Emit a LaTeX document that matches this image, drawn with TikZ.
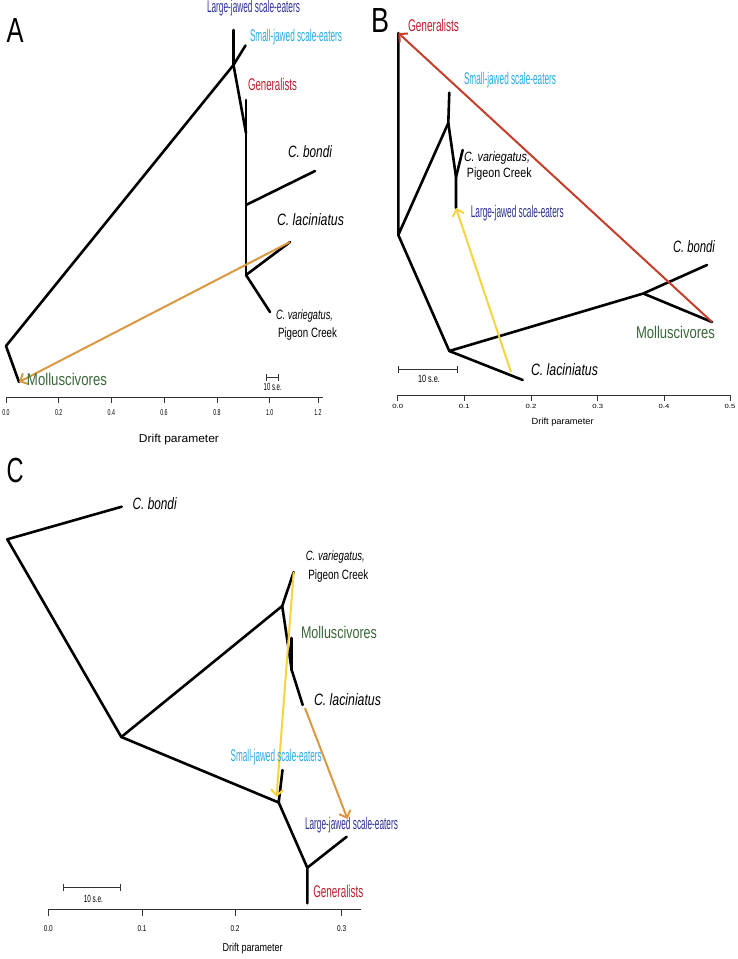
\documentclass[tikz,border=0pt]{standalone}
\usepackage{fontspec}
\setmainfont{Liberation Sans}
\usepackage{graphicx}
\usetikzlibrary{arrows.meta}
\definecolor{LJNavy}{RGB}{46,49,146}
\definecolor{SJBlue}{RGB}{39,170,225}
\definecolor{GenRed}{RGB}{190,30,45}
\definecolor{MolGreen}{RGB}{58,104,58}
\definecolor{MigOrange}{RGB}{218,152,66}
\definecolor{MigRed}{RGB}{196,62,42}
\definecolor{MigYellow}{RGB}{246,212,62}
\definecolor{AxisGray}{RGB}{50,50,50}
\newcommand{\fitlbl}[2]{\resizebox{#1bp}{\height}{#2}}

\begin{document}
\begin{tikzpicture}[x=1bp,y=-1bp,
    branch/.style={line width=2.6bp,line cap=round,line join=round},
    mig/.style={line width=2bp,-{Straight Barb[length=6bp,width=12bp]}},
    ax/.style={line width=0.9bp,draw=AxisGray},
    sebar/.style={ax,{Bar[width=7bp]}-{Bar[width=7bp]}},
    lab/.style={inner sep=0pt,anchor=mid},
    grp/.style={lab,font=\fontsize{17}{17}\selectfont},
    spc/.style={lab,font=\fontsize{16.5}{16.5}\selectfont\itshape},
    loc/.style={lab,font=\fontsize{13.5}{13.5}\selectfont},
    panel/.style={inner sep=0pt,anchor=center,font=\fontsize{35}{35}\selectfont},
    tklab/.style={lab,font=\fontsize{8.5}{8.5}\selectfont},
    selab/.style={lab,font=\fontsize{10.5}{10.5}\selectfont},
    drift/.style={lab,font=\fontsize{11.5}{11.5}\selectfont}
  ]
  \useasboundingbox (0,0) rectangle (738,959);

  % panel A
  \node[panel] (pA) at (15,31) {\fitlbl{17}{A}};
  \coordinate (aLJ) at (233.5,30);
  \coordinate (aN1) at (233.5,65);
  \coordinate (aSJ) at (245.5,45.5);
  \coordinate (aGen) at (246,100);
  \coordinate (aN2) at (246,133);
  \coordinate (aN3) at (246,205);
  \coordinate (aN4) at (246,275);
  \coordinate (aBon) at (315,171);
  \coordinate (aLac) at (290,242);
  \coordinate (aVar) at (270,312);
  \coordinate (aR) at (6,346);
  \coordinate (aMol) at (19,382);
  \draw[branch] (aLJ) -- (aN1);
  \draw[branch] (aSJ) -- (aN1);
  \draw[branch] (aN1) -- (aN2);
  \draw[branch] (aGen) -- (aN2) -- (aN3) -- (aN4);
  \draw[branch] (aN3) -- (aBon);
  \draw[branch] (aN4) -- (aLac);
  \draw[branch] (aN4) -- (aVar);
  \draw[branch] (aN1) -- (aR) -- (aMol);
  \draw[mig,draw=MigOrange] (aLac) -- (aMol);
  \node[grp,text=LJNavy] (aLJl) at (253.5,10) {\fitlbl{93}{Large-jawed scale-eaters}};
  \node[grp,text=SJBlue] (aSJl) at (296,39) {\fitlbl{92}{Small-jawed scale-eaters}};
  \node[grp,text=GenRed] (aGenl) at (272.5,88) {\fitlbl{49}{Generalists}};
  \node[spc] (aBonl) at (310,155) {\fitlbl{44}{C. bondi}};
  \node[spc] (aLacl) at (310.5,223) {\fitlbl{67}{C. laciniatus}};
  \node[loc] (aVarl) at (304.5,317) {\fitlbl{57}{\itshape C. variegatus,}};
  \node[loc] (aPigl) at (307.5,335) {\fitlbl{59}{Pigeon Creek}};
  \node[grp,text=MolGreen] (aMoll) at (67,383) {\fitlbl{80}{Molluscivores}};
  \coordinate (aS1) at (265.7,377.3);
  \coordinate (aS2) at (279.3,377.3);
  \draw[sebar] (aS1) -- (aS2);
  \node[selab] (aSel) at (272.7,388) {\fitlbl{18}{10 s.e.}};
  \coordinate (aX1) at (6,397);
  \coordinate (aX2) at (323,397);
  \draw[ax] (aX1) -- (aX2);
  \foreach \x/\t [count=\i] in {6/0.0,58.7/0.2,111.3/0.4,164/0.6,217/0.8,269.7/1.0,318/1.2}{
    \draw[ax] (\x,397) -- (\x,402.5);
    \node[tklab] (aT\i) at (\x,413) {\fitlbl{7.3}{\t}};
  }
  \node[drift] (aDr) at (179,440) {\fitlbl{80}{Drift parameter}};

  % panel B
  \node[panel] (pB) at (380,21) {\fitlbl{18}{B}};
  \coordinate (bGen) at (398.3,33);
  \coordinate (bR) at (398.3,235);
  \coordinate (bM) at (448.3,123);
  \coordinate (bSJ) at (449.3,92.7);
  \coordinate (bV) at (456,177);
  \coordinate (bVar) at (462.7,150);
  \coordinate (bLJ) at (456,208);
  \coordinate (bQ) at (449.3,351);
  \coordinate (bLac) at (522.7,380);
  \coordinate (bP) at (643.3,293.5);
  \coordinate (bBon) at (707,265);
  \coordinate (bMol) at (712,322);
  \coordinate (bLacA) at (511,372);
  \draw[branch] (bGen) -- (bR) -- (bM) -- (bSJ);
  \draw[branch] (bM) -- (bV) -- (bLJ);
  \draw[branch] (bV) -- (bVar);
  \draw[branch] (bR) -- (bQ) -- (bLac);
  \draw[branch] (bQ) -- (bP) -- (bBon);
  \draw[branch] (bP) -- (bMol);
  \draw[mig,draw=MigRed] (bMol) -- (bGen);
  \draw[mig,draw=MigYellow] (bLacA) -- (bLJ);
  \node[grp,text=GenRed] (bGenl) at (433.5,29.3) {\fitlbl{51}{Generalists}};
  \node[grp,text=SJBlue] (bSJl) at (510,81.7) {\fitlbl{92}{Small-jawed scale-eaters}};
  \node[loc] (bVarl) at (497,159.3) {\fitlbl{66}{\itshape C. variegatus,}};
  \node[loc] (bPigl) at (499.3,175) {\fitlbl{64.7}{Pigeon Creek}};
  \node[grp,text=LJNavy] (bLJl) at (517.3,215) {\fitlbl{93}{Large-jawed scale-eaters}};
  \node[spc] (bBonl) at (694,250) {\fitlbl{42}{C. bondi}};
  \node[grp,text=MolGreen] (bMoll) at (675.5,336) {\fitlbl{79}{Molluscivores}};
  \node[spc] (bLacl) at (564.5,373.3) {\fitlbl{67}{C. laciniatus}};
  \coordinate (bS1) at (397.7,369);
  \coordinate (bS2) at (457.7,369);
  \draw[sebar] (bS1) -- (bS2);
  \node[selab] (bSel) at (429,380) {\fitlbl{22}{10 s.e.}};
  \coordinate (bX1) at (397.7,395);
  \coordinate (bX2) at (730,395);
  \draw[ax] (bX1) -- (bX2);
  \foreach \x/\t [count=\i] in {397.7/0.0,464.3/0.1,531/0.2,597.7/0.3,664/0.4,730/0.5}{
    \draw[ax] (\x,395) -- (\x,400.5);
    \node[tklab,font=\fontsize{6}{6}\selectfont] (bT\i) at (\x,406) {\fitlbl{10.7}{\t}};
  }
  \node[drift,font=\fontsize{9}{9}\selectfont] (bDr) at (562.7,421.7) {\fitlbl{62}{Drift parameter}};

  % panel C
  \node[panel] (pC) at (15,470) {\fitlbl{17}{C}};
  \coordinate (cR) at (7.3,539.3);
  \coordinate (cBon) at (121.7,506.7);
  \coordinate (cS) at (121.3,737);
  \coordinate (cU) at (282.2,606);
  \coordinate (cVar) at (293.7,572);
  \coordinate (cV) at (291.7,670);
  \coordinate (cMol) at (291.7,638);
  \coordinate (cLac) at (302.7,705);
  \coordinate (cT) at (278.7,802.5);
  \coordinate (cSJ) at (282.5,770);
  \coordinate (cW) at (307.3,867.7);
  \coordinate (cGen) at (307.3,903.3);
  \coordinate (cLJ) at (346.7,836.7);
  \coordinate (cTA) at (276.5,797);
  \coordinate (cLacA) at (305,708);
  \coordinate (cLJA) at (347.5,819);
  \draw[branch] (cBon) -- (cR) -- (cS) -- (cU) -- (cVar);
  \draw[branch] (cU) -- (cV) -- (cLac);
  \draw[branch] (cMol) -- (cV);
  \draw[branch] (cS) -- (cT) -- (cSJ);
  \draw[branch] (cT) -- (cW) -- (cGen);
  \draw[branch] (cW) -- (cLJ);
  \draw[mig,draw=MigYellow] (cVar) -- (cTA);
  \draw[mig,draw=MigOrange] (cLacA) -- (cLJA);
  \node[spc] (cBonl) at (154.7,506.7) {\fitlbl{44}{C. bondi}};
  \node[loc] (cVarl) at (335.3,558.3) {\fitlbl{59}{\itshape C. variegatus,}};
  \node[loc] (cPigl) at (338.3,577.3) {\fitlbl{60}{Pigeon Creek}};
  \node[grp,text=MolGreen] (cMoll) at (339,636) {\fitlbl{76}{Molluscivores}};
  \node[spc] (cLacl) at (347.5,703.3) {\fitlbl{67}{C. laciniatus}};
  \node[grp,text=SJBlue] (cSJl) at (276.2,759.3) {\fitlbl{91}{Small-jawed scale-eaters}};
  \node[grp,text=LJNavy] (cLJl) at (351.5,827.3) {\fitlbl{93}{Large-jawed scale-eaters}};
  \node[grp,text=GenRed] (cGenl) at (338.3,895) {\fitlbl{50}{Generalists}};
  \coordinate (cS1) at (62.7,887.7);
  \coordinate (cS2) at (121,887.7);
  \draw[sebar] (cS1) -- (cS2);
  \node[selab] (cSel) at (93.3,900) {\fitlbl{19}{10 s.e.}};
  \coordinate (cX1) at (48.3,909.3);
  \coordinate (cX2) at (360.7,909.3);
  \draw[ax] (cX1) -- (cX2);
  \foreach \x/\t [count=\i] in {48.3/0.0,142/0.1,235/0.2,341.7/0.3}{
    \draw[ax] (\x,909.3) -- (\x,915.7);
    \node[tklab] (cT\i) at (\x,929.3) {\fitlbl{9}{\t}};
  }
  \node[drift] (cDr) at (252.7,949.3) {\fitlbl{60}{Drift parameter}};
\end{tikzpicture}
\end{document}
